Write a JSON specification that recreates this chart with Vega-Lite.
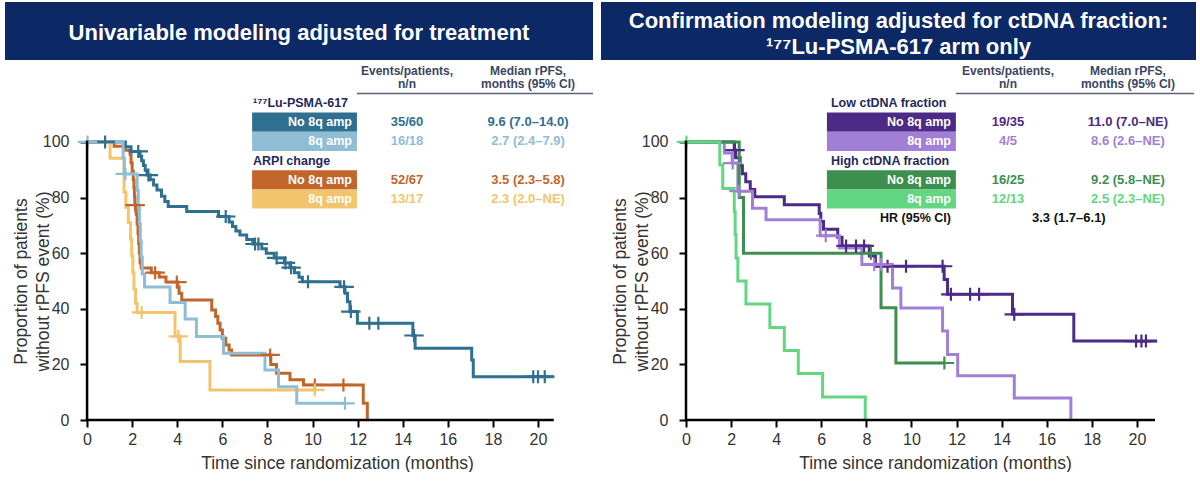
{
  "$schema": "https://vega.github.io/schema/vega-lite/v6.json",
  "background": "white",
  "padding": {"left": 5, "top": 2, "right": 0, "bottom": 0},
  "config": {"view": {"stroke": null}, "font": "Liberation Sans"},
  "datasets": {
    "one": [{}],
    "hdr": [{"row": "h", "ev": "Events/patients,\nn/n", "med": "Median rPFS,\nmonths (95% CI)"}],
    "grpL": [{"row": "g1", "text": "¹⁷⁷Lu-PSMA-617"}, {"row": "g2", "text": "ARPI change"}],
    "tabL": [
      {"row": "a", "g": "LuNo", "label": "No 8q amp", "ev": "35/60", "med": "9.6 (7.0–14.0)"},
      {"row": "b", "g": "Lu8q", "label": "8q amp", "ev": "16/18", "med": "2.7 (2.4–7.9)"},
      {"row": "c", "g": "ArNo", "label": "No 8q amp", "ev": "52/67", "med": "3.5 (2.3–5.8)"},
      {"row": "d", "g": "Ar8q", "label": "8q amp", "ev": "13/17", "med": "2.3 (2.0–NE)"}
    ],
    "grpR": [{"row": "g1", "text": "Low ctDNA fraction"}, {"row": "g2", "text": "High ctDNA fraction"}],
    "tabR": [
      {"row": "a", "g": "LowNo", "label": "No 8q amp", "ev": "19/35", "med": "11.0 (7.0–NE)"},
      {"row": "b", "g": "Low8q", "label": "8q amp", "ev": "4/5", "med": "8.6 (2.6–NE)"},
      {"row": "c", "g": "HighNo", "label": "No 8q amp", "ev": "16/25", "med": "9.2 (5.8–NE)"},
      {"row": "d", "g": "High8q", "label": "8q amp", "ev": "12/13", "med": "2.5 (2.3–NE)"}
    ],
    "hrR": [{"row": "hr", "label": "HR (95% CI)", "val": "3.3 (1.7–6.1)"}],
    "kmL": [
      {"g":"ArNo","t":0,"s":100},{"g":"ArNo","t":1.2,"s":98.5},{"g":"ArNo","t":1.69,"s":97.0},{"g":"ArNo","t":1.91,"s":95.5},{"g":"ArNo","t":1.95,"s":92.5},{"g":"ArNo","t":2.0,"s":89.5},{"g":"ArNo","t":2.05,"s":86.5},{"g":"ArNo","t":2.08,"s":83.5},{"g":"ArNo","t":2.1,"s":80.5},{"g":"ArNo","t":2.12,"s":77.3},{"g":"ArNo","t":2.18,"s":74.0},{"g":"ArNo","t":2.22,"s":70.5},{"g":"ArNo","t":2.26,"s":67.0},{"g":"ArNo","t":2.29,"s":63.5},{"g":"ArNo","t":2.32,"s":60.0},{"g":"ArNo","t":2.35,"s":56.5},{"g":"ArNo","t":2.4,"s":54.7},{"g":"ArNo","t":2.85,"s":53.0},{"g":"ArNo","t":3.2,"s":51.4},{"g":"ArNo","t":3.5,"s":49.6},{"g":"ArNo","t":4.02,"s":47.8},{"g":"ArNo","t":4.08,"s":45.6},{"g":"ArNo","t":4.2,"s":43.2},{"g":"ArNo","t":5.53,"s":39.6},{"g":"ArNo","t":5.7,"s":37.2},{"g":"ArNo","t":5.8,"s":34.8},{"g":"ArNo","t":5.9,"s":32.4},{"g":"ArNo","t":6.0,"s":29.4},{"g":"ArNo","t":6.15,"s":27.0},{"g":"ArNo","t":6.3,"s":25.2},{"g":"ArNo","t":6.41,"s":23.4},{"g":"ArNo","t":8.15,"s":20.0},{"g":"ArNo","t":8.4,"s":16.8},{"g":"ArNo","t":9.0,"s":14.5},{"g":"ArNo","t":9.6,"s":12.6},{"g":"ArNo","t":12.25,"s":6.0},{"g":"ArNo","t":12.43,"s":0},
      {"g":"Ar8q","t":0,"s":100},{"g":"Ar8q","t":1.02,"s":94.1},{"g":"Ar8q","t":1.64,"s":82.0},{"g":"Ar8q","t":1.72,"s":76.5},{"g":"Ar8q","t":1.83,"s":71.0},{"g":"Ar8q","t":1.93,"s":65.0},{"g":"Ar8q","t":1.98,"s":59.0},{"g":"Ar8q","t":2.03,"s":53.0},{"g":"Ar8q","t":2.08,"s":47.0},{"g":"Ar8q","t":2.15,"s":42.0},{"g":"Ar8q","t":2.22,"s":38.7},{"g":"Ar8q","t":3.9,"s":30.1},{"g":"Ar8q","t":4.13,"s":21.0},{"g":"Ar8q","t":5.45,"s":10.8},{"g":"Ar8q","t":10.1,"s":10.8},
      {"g":"LuNo","t":0,"s":100},{"g":"LuNo","t":1.7,"s":98.3},{"g":"LuNo","t":1.95,"s":96.6},{"g":"LuNo","t":2.35,"s":94.9},{"g":"LuNo","t":2.42,"s":93.2},{"g":"LuNo","t":2.5,"s":91.5},{"g":"LuNo","t":2.58,"s":89.8},{"g":"LuNo","t":2.66,"s":88.1},{"g":"LuNo","t":2.8,"s":86.4},{"g":"LuNo","t":2.95,"s":84.5},{"g":"LuNo","t":3.1,"s":82.7},{"g":"LuNo","t":3.3,"s":80.5},{"g":"LuNo","t":3.45,"s":78.6},{"g":"LuNo","t":3.6,"s":76.8},{"g":"LuNo","t":4.42,"s":75.0},{"g":"LuNo","t":5.83,"s":73.2},{"g":"LuNo","t":6.3,"s":71.2},{"g":"LuNo","t":6.45,"s":69.6},{"g":"LuNo","t":6.6,"s":68.0},{"g":"LuNo","t":6.78,"s":66.5},{"g":"LuNo","t":7.08,"s":64.9},{"g":"LuNo","t":7.35,"s":63.3},{"g":"LuNo","t":7.75,"s":61.6},{"g":"LuNo","t":7.95,"s":60.0},{"g":"LuNo","t":8.3,"s":58.3},{"g":"LuNo","t":8.75,"s":56.5},{"g":"LuNo","t":9.0,"s":54.8},{"g":"LuNo","t":9.2,"s":53.0},{"g":"LuNo","t":9.4,"s":51.3},{"g":"LuNo","t":9.55,"s":49.7},{"g":"LuNo","t":11.22,"s":47.9},{"g":"LuNo","t":11.44,"s":45.6},{"g":"LuNo","t":11.55,"s":42.5},{"g":"LuNo","t":11.66,"s":39.0},{"g":"LuNo","t":11.99,"s":34.8},{"g":"LuNo","t":14.45,"s":30.4},{"g":"LuNo","t":14.55,"s":25.8},{"g":"LuNo","t":17.06,"s":21.6},{"g":"LuNo","t":17.13,"s":15.6},{"g":"LuNo","t":20.7,"s":15.6},
      {"g":"Lu8q","t":0,"s":100},{"g":"Lu8q","t":1.6,"s":94.1},{"g":"Lu8q","t":1.65,"s":88.5},{"g":"Lu8q","t":2.22,"s":82.5},{"g":"Lu8q","t":2.27,"s":76.5},{"g":"Lu8q","t":2.32,"s":70.5},{"g":"Lu8q","t":2.36,"s":64.5},{"g":"Lu8q","t":2.4,"s":58.5},{"g":"Lu8q","t":2.45,"s":52.5},{"g":"Lu8q","t":2.55,"s":47.8},{"g":"Lu8q","t":3.68,"s":42.3},{"g":"Lu8q","t":4.35,"s":36.3},{"g":"Lu8q","t":4.85,"s":30.0},{"g":"Lu8q","t":6.05,"s":24.0},{"g":"Lu8q","t":7.89,"s":18.0},{"g":"Lu8q","t":8.49,"s":12.0},{"g":"Lu8q","t":9.3,"s":6.0},{"g":"Lu8q","t":11.5,"s":6.0}
    ],
    "cenL": [
      {"g":"ArNo","t":2.13,"s":77.3},{"g":"ArNo","t":3.02,"s":53.0},{"g":"ArNo","t":3.98,"s":49.6},{"g":"ArNo","t":8.12,"s":23.4},{"g":"ArNo","t":10.1,"s":12.6},{"g":"ArNo","t":11.37,"s":12.6},
      {"g":"Ar8q","t":2.42,"s":38.7},{"g":"Ar8q","t":4.05,"s":30.1},{"g":"Ar8q","t":10.1,"s":10.8},
      {"g":"LuNo","t":0.8,"s":100},{"g":"LuNo","t":2.27,"s":96.6},{"g":"LuNo","t":2.72,"s":88.1},{"g":"LuNo","t":6.15,"s":73.2},{"g":"LuNo","t":7.45,"s":63.3},{"g":"LuNo","t":7.6,"s":63.3},{"g":"LuNo","t":8.41,"s":58.3},{"g":"LuNo","t":8.8,"s":56.5},{"g":"LuNo","t":9.05,"s":54.8},{"g":"LuNo","t":9.8,"s":49.7},{"g":"LuNo","t":11.4,"s":47.9},{"g":"LuNo","t":11.7,"s":39.0},{"g":"LuNo","t":12.52,"s":34.8},{"g":"LuNo","t":12.92,"s":34.8},{"g":"LuNo","t":14.5,"s":30.4},{"g":"LuNo","t":19.79,"s":15.6},{"g":"LuNo","t":20.0,"s":15.6},{"g":"LuNo","t":20.3,"s":15.6},
      {"g":"Lu8q","t":0.02,"s":100},{"g":"Lu8q","t":1.7,"s":88.5},{"g":"Lu8q","t":11.44,"s":6.0}
    ],
    "kmR": [
      {"g":"LowNo","t":0,"s":100},{"g":"LowNo","t":2.14,"s":97.1},{"g":"LowNo","t":2.2,"s":94.3},{"g":"LowNo","t":2.4,"s":91.4},{"g":"LowNo","t":2.5,"s":88.6},{"g":"LowNo","t":2.65,"s":85.7},{"g":"LowNo","t":2.85,"s":82.9},{"g":"LowNo","t":3.05,"s":80.3},{"g":"LowNo","t":4.36,"s":77.4},{"g":"LowNo","t":5.91,"s":74.3},{"g":"LowNo","t":5.98,"s":71.4},{"g":"LowNo","t":6.1,"s":68.6},{"g":"LowNo","t":6.73,"s":65.7},{"g":"LowNo","t":6.92,"s":62.6},{"g":"LowNo","t":8.13,"s":59.0},{"g":"LowNo","t":8.4,"s":55.3},{"g":"LowNo","t":11.45,"s":50.5},{"g":"LowNo","t":11.6,"s":45.2},{"g":"LowNo","t":14.48,"s":38.0},{"g":"LowNo","t":17.2,"s":28.4},{"g":"LowNo","t":20.9,"s":28.4},
      {"g":"Low8q","t":0,"s":100},{"g":"Low8q","t":1.7,"s":96.0},{"g":"Low8q","t":2.05,"s":92.4},{"g":"Low8q","t":2.3,"s":82.3},{"g":"Low8q","t":2.95,"s":76.2},{"g":"Low8q","t":3.55,"s":72.0},{"g":"Low8q","t":5.95,"s":66.3},{"g":"Low8q","t":6.8,"s":61.9},{"g":"Low8q","t":7.8,"s":55.9},{"g":"Low8q","t":9.16,"s":47.5},{"g":"Low8q","t":9.53,"s":40.3},{"g":"Low8q","t":11.38,"s":32.0},{"g":"Low8q","t":11.6,"s":23.6},{"g":"Low8q","t":12.05,"s":15.9},{"g":"Low8q","t":14.56,"s":7.9},{"g":"Low8q","t":17.07,"s":0},
      {"g":"HighNo","t":0,"s":100},{"g":"HighNo","t":2.36,"s":80.0},{"g":"HighNo","t":2.55,"s":60.0},{"g":"HighNo","t":8.65,"s":40.4},{"g":"HighNo","t":9.31,"s":20.5},{"g":"HighNo","t":11.5,"s":20.5},
      {"g":"High8q","t":0,"s":100},{"g":"High8q","t":1.5,"s":91.7},{"g":"High8q","t":1.63,"s":83.3},{"g":"High8q","t":2.14,"s":75.0},{"g":"High8q","t":2.18,"s":66.7},{"g":"High8q","t":2.22,"s":58.3},{"g":"High8q","t":2.3,"s":50.0},{"g":"High8q","t":2.66,"s":41.7},{"g":"High8q","t":3.72,"s":33.3},{"g":"High8q","t":4.36,"s":25.0},{"g":"High8q","t":4.98,"s":16.7},{"g":"High8q","t":6.06,"s":8.3},{"g":"High8q","t":7.95,"s":0}
    ],
    "cenR": [
      {"g":"LowNo","t":2.17,"s":97.1},{"g":"LowNo","t":7.1,"s":62.6},{"g":"LowNo","t":7.54,"s":62.6},{"g":"LowNo","t":7.9,"s":62.6},{"g":"LowNo","t":8.94,"s":55.3},{"g":"LowNo","t":9.76,"s":55.3},{"g":"LowNo","t":11.38,"s":55.3},{"g":"LowNo","t":11.75,"s":45.2},{"g":"LowNo","t":12.6,"s":45.2},{"g":"LowNo","t":13.0,"s":45.2},{"g":"LowNo","t":14.56,"s":38.0},{"g":"LowNo","t":19.96,"s":28.4},{"g":"LowNo","t":20.2,"s":28.4},{"g":"LowNo","t":20.4,"s":28.4},
      {"g":"Low8q","t":2.07,"s":92.4},{"g":"Low8q","t":2.35,"s":82.3},{"g":"Low8q","t":6.2,"s":66.3},{"g":"Low8q","t":8.35,"s":55.9},{"g":"Low8q","t":8.65,"s":55.9},
      {"g":"HighNo","t":8.2,"s":60.0},{"g":"HighNo","t":11.46,"s":20.5},
      {"g":"High8q","t":0.02,"s":100}
    ]
  },
  "spacing": 7,
  "resolve": {"scale": {"color": "independent", "x": "independent", "y": "independent"}},
  "hconcat": [
    {
      "spacing": 3,
      "vconcat": [
        {
          "width": 588, "height": 58,
          "view": {"fill": "#0c2865", "stroke": null},
          "data": {"values": [{"title": "Univariable modeling adjusted for treatment"}]},
          "mark": {"type": "text", "color": "white", "fontSize": 22, "fontWeight": "bold", "baseline": "middle", "align": "center", "dy": 2},
          "encoding": {"text": {"field": "title", "type": "nominal"}}
        },
        {
          "width": 588, "height": 357,
          "resolve": {"scale": {"y": "independent"}},
          "layer": [
            {
              "layer": [
                {
                  "data": {"name": "kmL"},
                  "mark": {"type": "line", "interpolate": "step-after", "strokeWidth": 3},
                  "encoding": {
                    "x": {"field": "t", "type": "quantitative", "scale": {"domain": [-3.64, 22.44], "nice": false, "zero": false},
                      "axis": {"values": [0,2,4,6,8,10,12,14,16,18,20], "domain": false, "grid": false, "tickColor": "black", "tickWidth": 2, "tickSize": 7, "labelFontSize": 16, "labelColor": "#333333", "labelPadding": 4, "labelFlush": false, "labelOverlap": false, "title": "Time since randomization (months)", "titleFontSize": 17.5, "titleFontWeight": "normal", "titleColor": "#333333", "titleX": 332, "titleY": 34}},
                    "y": {"field": "s", "type": "quantitative", "scale": {"domain": [0, 128.4], "nice": false, "zero": false},
                      "axis": {"values": [0,20,40,60,80,100], "domain": false, "grid": false, "offset": -82, "tickColor": "black", "tickWidth": 2, "tickSize": 7, "labelFontSize": 16, "labelColor": "#333333", "labelPadding": 11, "title": ["Proportion of patients", "without rPFS event (%)"], "titleFontSize": 17.5, "titleFontWeight": "normal", "titleColor": "#333333", "titleX": -57, "titleY": 218, "titleLineHeight": 22}},
                    "color": {"field": "g", "type": "nominal", "scale": {"domain": ["LuNo","Lu8q","ArNo","Ar8q"], "range": ["#2f6f8f","#8fbdd6","#c2652b","#f2c56c"]}, "legend": null}
                  }
                },
                {
                  "data": {"name": "cenL"},
                  "mark": {"type": "point", "shape": "M-1.5,0L1.5,0M0,-1L0,1", "filled": false, "size": 169, "strokeWidth": 2.2, "opacity": 1},
                  "encoding": {
                    "x": {"field": "t", "type": "quantitative"},
                    "y": {"field": "s", "type": "quantitative"},
                    "color": {"field": "g", "type": "nominal", "scale": {"domain": ["LuNo","Lu8q","ArNo","Ar8q"], "range": ["#2f6f8f","#8fbdd6","#c2652b","#f2c56c"]}, "legend": null}
                  }
                },
                {
                  "data": {"name": "one"},
                  "mark": {"type": "rule", "color": "black", "strokeWidth": 2.5},
                  "encoding": {"x": {"datum": 0}, "y": {"datum": 0}, "y2": {"datum": 100.5}}
                },
                {
                  "data": {"name": "one"},
                  "mark": {"type": "rule", "color": "black", "strokeWidth": 2.5},
                  "encoding": {"x": {"datum": -0.05}, "x2": {"datum": 20.7}, "y": {"datum": 0}}
                }
              ]
            },
            {
              "layer": [
                {
                  "data": {"name": "hdr"},
                  "mark": {"type": "rule", "color": "#59627a", "strokeWidth": 1.5},
                  "encoding": {"x": {"datum": 11.97}, "x2": {"datum": 22.44},
                    "y": {"field": "row", "type": "nominal", "bandPosition": 1, "scale": {"type": "band", "domain": ["h","g1","a","b","g2","c","d","hr","z1","z2","z3","z4","z5","z6","z7","z8","z9","z10"], "paddingInner": 0, "paddingOuter": 0.297, "align": 0.982}, "axis": null}}
                },
                {
                  "data": {"name": "hdr"},
                  "mark": {"type": "text", "fontSize": 12, "fontWeight": "bold", "color": "#3b4560", "lineBreak": "\n", "lineHeight": 12.5, "baseline": "middle", "align": "center", "dy": -5},
                  "encoding": {"x": {"datum": 14.19},
                    "y": {"field": "row", "type": "nominal", "bandPosition": 0.1, "scale": {"type": "band", "domain": ["h","g1","a","b","g2","c","d","hr","z1","z2","z3","z4","z5","z6","z7","z8","z9","z10"], "paddingInner": 0, "paddingOuter": 0.297, "align": 0.982}, "axis": null},
                    "text": {"field": "ev", "type": "nominal"}}
                },
                {
                  "data": {"name": "hdr"},
                  "mark": {"type": "text", "fontSize": 12, "fontWeight": "bold", "color": "#3b4560", "lineBreak": "\n", "lineHeight": 12.5, "baseline": "middle", "align": "center", "dy": -5},
                  "encoding": {"x": {"datum": 19.56},
                    "y": {"field": "row", "type": "nominal", "bandPosition": 0.1, "scale": {"type": "band", "domain": ["h","g1","a","b","g2","c","d","hr","z1","z2","z3","z4","z5","z6","z7","z8","z9","z10"], "paddingInner": 0, "paddingOuter": 0.297, "align": 0.982}, "axis": null},
                    "text": {"field": "med", "type": "nominal"}}
                },
                {
                  "data": {"name": "grpL"},
                  "mark": {"type": "text", "fontSize": 12.5, "fontWeight": "bold", "color": "#1f2a5a", "baseline": "middle", "align": "left"},
                  "encoding": {"x": {"datum": 7.36},
                    "y": {"field": "row", "type": "nominal", "scale": {"type": "band", "domain": ["h","g1","a","b","g2","c","d","hr","z1","z2","z3","z4","z5","z6","z7","z8","z9","z10"], "paddingInner": 0, "paddingOuter": 0.297, "align": 0.982}, "axis": null},
                    "text": {"field": "text", "type": "nominal"}}
                },
                {
                  "data": {"name": "tabL"},
                  "mark": {"type": "rect"},
                  "encoding": {"x": {"datum": 7.32}, "x2": {"datum": 11.97},
                    "y": {"field": "row", "type": "nominal", "scale": {"type": "band", "domain": ["h","g1","a","b","g2","c","d","hr","z1","z2","z3","z4","z5","z6","z7","z8","z9","z10"], "paddingInner": 0, "paddingOuter": 0.297, "align": 0.982}, "axis": null},
                    "color": {"field": "g", "type": "nominal", "scale": {"domain": ["LuNo","Lu8q","ArNo","Ar8q"], "range": ["#2f6f8f","#8fbdd6","#c2652b","#f2c56c"]}, "legend": null}}
                },
                {
                  "data": {"name": "tabL"},
                  "mark": {"type": "text", "fontSize": 12.5, "fontWeight": "bold", "color": "white", "baseline": "middle", "align": "right"},
                  "encoding": {"x": {"datum": 11.75},
                    "y": {"field": "row", "type": "nominal", "scale": {"type": "band", "domain": ["h","g1","a","b","g2","c","d","hr","z1","z2","z3","z4","z5","z6","z7","z8","z9","z10"], "paddingInner": 0, "paddingOuter": 0.297, "align": 0.982}, "axis": null},
                    "text": {"field": "label", "type": "nominal"}}
                },
                {
                  "data": {"name": "tabL"},
                  "mark": {"type": "text", "fontSize": 13, "fontWeight": "bold", "baseline": "middle", "align": "center"},
                  "encoding": {"x": {"datum": 14.19},
                    "y": {"field": "row", "type": "nominal", "scale": {"type": "band", "domain": ["h","g1","a","b","g2","c","d","hr","z1","z2","z3","z4","z5","z6","z7","z8","z9","z10"], "paddingInner": 0, "paddingOuter": 0.297, "align": 0.982}, "axis": null},
                    "text": {"field": "ev", "type": "nominal"},
                    "color": {"field": "g", "type": "nominal", "scale": {"domain": ["LuNo","Lu8q","ArNo","Ar8q"], "range": ["#2f6f8f","#8fbdd6","#c2652b","#f2c56c"]}, "legend": null}}
                },
                {
                  "data": {"name": "tabL"},
                  "mark": {"type": "text", "fontSize": 13, "fontWeight": "bold", "baseline": "middle", "align": "center"},
                  "encoding": {"x": {"datum": 19.56},
                    "y": {"field": "row", "type": "nominal", "scale": {"type": "band", "domain": ["h","g1","a","b","g2","c","d","hr","z1","z2","z3","z4","z5","z6","z7","z8","z9","z10"], "paddingInner": 0, "paddingOuter": 0.297, "align": 0.982}, "axis": null},
                    "text": {"field": "med", "type": "nominal"},
                    "color": {"field": "g", "type": "nominal", "scale": {"domain": ["LuNo","Lu8q","ArNo","Ar8q"], "range": ["#2f6f8f","#8fbdd6","#c2652b","#f2c56c"]}, "legend": null}}
                }
              ]
            }
          ]
        }
      ]
    },
    {
      "spacing": 3,
      "vconcat": [
        {
          "width": 595, "height": 58,
          "view": {"fill": "#0c2865", "stroke": null},
          "data": {"values": [{"ln": "1", "title": "Confirmation modeling adjusted for ctDNA fraction:"}, {"ln": "2", "title": "¹⁷⁷Lu-PSMA-617 arm only"}]},
          "mark": {"type": "text", "color": "white", "fontSize": 22, "fontWeight": "bold", "baseline": "middle", "align": "center", "dy": 3},
          "encoding": {
            "y": {"field": "ln", "type": "ordinal", "scale": {"type": "band", "paddingInner": 0, "paddingOuter": 0.1}, "axis": null},
            "text": {"field": "title", "type": "nominal"}
          }
        },
        {
          "width": 595, "height": 357,
          "resolve": {"scale": {"y": "independent"}},
          "layer": [
            {
              "layer": [
                {
                  "data": {"name": "kmR"},
                  "mark": {"type": "line", "interpolate": "step-after", "strokeWidth": 3},
                  "encoding": {
                    "x": {"field": "t", "type": "quantitative", "scale": {"domain": [-3.77, 22.62], "nice": false, "zero": false},
                      "axis": {"values": [0,2,4,6,8,10,12,14,16,18,20], "domain": false, "grid": false, "tickColor": "black", "tickWidth": 2, "tickSize": 7, "labelFontSize": 16, "labelColor": "#333333", "labelPadding": 4, "labelFlush": false, "labelOverlap": false, "title": "Time since randomization (months)", "titleFontSize": 17.5, "titleFontWeight": "normal", "titleColor": "#333333", "titleX": 334, "titleY": 34}},
                    "y": {"field": "s", "type": "quantitative", "scale": {"domain": [0, 128.4], "nice": false, "zero": false},
                      "axis": {"values": [0,20,40,60,80,100], "domain": false, "grid": false, "offset": -85, "tickColor": "black", "tickWidth": 2, "tickSize": 7, "labelFontSize": 16, "labelColor": "#333333", "labelPadding": 11, "title": ["Proportion of patients", "without rPFS event (%)"], "titleFontSize": 17.5, "titleFontWeight": "normal", "titleColor": "#333333", "titleX": -57, "titleY": 218, "titleLineHeight": 22}},
                    "color": {"field": "g", "type": "nominal", "scale": {"domain": ["LowNo","Low8q","HighNo","High8q"], "range": ["#4d2a85","#a27fd6","#3d8f50","#62d680"]}, "legend": null}
                  }
                },
                {
                  "data": {"name": "cenR"},
                  "mark": {"type": "point", "shape": "M-1.5,0L1.5,0M0,-1L0,1", "filled": false, "size": 169, "strokeWidth": 2.2, "opacity": 1},
                  "encoding": {
                    "x": {"field": "t", "type": "quantitative"},
                    "y": {"field": "s", "type": "quantitative"},
                    "color": {"field": "g", "type": "nominal", "scale": {"domain": ["LowNo","Low8q","HighNo","High8q"], "range": ["#4d2a85","#a27fd6","#3d8f50","#62d680"]}, "legend": null}
                  }
                },
                {
                  "data": {"name": "one"},
                  "mark": {"type": "rule", "color": "black", "strokeWidth": 2.5},
                  "encoding": {"x": {"datum": 0}, "y": {"datum": 0}, "y2": {"datum": 100.5}}
                },
                {
                  "data": {"name": "one"},
                  "mark": {"type": "rule", "color": "black", "strokeWidth": 2.5},
                  "encoding": {"x": {"datum": -0.05}, "x2": {"datum": 20.8}, "y": {"datum": 0}}
                }
              ]
            },
            {
              "layer": [
                {
                  "data": {"name": "hdr"},
                  "mark": {"type": "rule", "color": "#59627a", "strokeWidth": 1.5},
                  "encoding": {"x": {"datum": 11.97}, "x2": {"datum": 22.53},
                    "y": {"field": "row", "type": "nominal", "bandPosition": 1, "scale": {"type": "band", "domain": ["h","g1","a","b","g2","c","d","hr","z1","z2","z3","z4","z5","z6","z7","z8","z9","z10"], "paddingInner": 0, "paddingOuter": 0.297, "align": 0.982}, "axis": null}}
                },
                {
                  "data": {"name": "hdr"},
                  "mark": {"type": "text", "fontSize": 12, "fontWeight": "bold", "color": "#3b4560", "lineBreak": "\n", "lineHeight": 12.5, "baseline": "middle", "align": "center", "dy": -5},
                  "encoding": {"x": {"datum": 14.28},
                    "y": {"field": "row", "type": "nominal", "bandPosition": 0.1, "scale": {"type": "band", "domain": ["h","g1","a","b","g2","c","d","hr","z1","z2","z3","z4","z5","z6","z7","z8","z9","z10"], "paddingInner": 0, "paddingOuter": 0.297, "align": 0.982}, "axis": null},
                    "text": {"field": "ev", "type": "nominal"}}
                },
                {
                  "data": {"name": "hdr"},
                  "mark": {"type": "text", "fontSize": 12, "fontWeight": "bold", "color": "#3b4560", "lineBreak": "\n", "lineHeight": 12.5, "baseline": "middle", "align": "center", "dy": -5},
                  "encoding": {"x": {"datum": 19.6},
                    "y": {"field": "row", "type": "nominal", "bandPosition": 0.1, "scale": {"type": "band", "domain": ["h","g1","a","b","g2","c","d","hr","z1","z2","z3","z4","z5","z6","z7","z8","z9","z10"], "paddingInner": 0, "paddingOuter": 0.297, "align": 0.982}, "axis": null},
                    "text": {"field": "med", "type": "nominal"}}
                },
                {
                  "data": {"name": "grpR"},
                  "mark": {"type": "text", "fontSize": 12.5, "fontWeight": "bold", "color": "#1f2a5a", "baseline": "middle", "align": "left"},
                  "encoding": {"x": {"datum": 6.43},
                    "y": {"field": "row", "type": "nominal", "scale": {"type": "band", "domain": ["h","g1","a","b","g2","c","d","hr","z1","z2","z3","z4","z5","z6","z7","z8","z9","z10"], "paddingInner": 0, "paddingOuter": 0.297, "align": 0.982}, "axis": null},
                    "text": {"field": "text", "type": "nominal"}}
                },
                {
                  "data": {"name": "tabR"},
                  "mark": {"type": "rect"},
                  "encoding": {"x": {"datum": 6.25}, "x2": {"datum": 11.97},
                    "y": {"field": "row", "type": "nominal", "scale": {"type": "band", "domain": ["h","g1","a","b","g2","c","d","hr","z1","z2","z3","z4","z5","z6","z7","z8","z9","z10"], "paddingInner": 0, "paddingOuter": 0.297, "align": 0.982}, "axis": null},
                    "color": {"field": "g", "type": "nominal", "scale": {"domain": ["LowNo","Low8q","HighNo","High8q"], "range": ["#4d2a85","#a27fd6","#3d8f50","#62d680"]}, "legend": null}}
                },
                {
                  "data": {"name": "tabR"},
                  "mark": {"type": "text", "fontSize": 12.5, "fontWeight": "bold", "color": "white", "baseline": "middle", "align": "right"},
                  "encoding": {"x": {"datum": 11.75},
                    "y": {"field": "row", "type": "nominal", "scale": {"type": "band", "domain": ["h","g1","a","b","g2","c","d","hr","z1","z2","z3","z4","z5","z6","z7","z8","z9","z10"], "paddingInner": 0, "paddingOuter": 0.297, "align": 0.982}, "axis": null},
                    "text": {"field": "label", "type": "nominal"}}
                },
                {
                  "data": {"name": "tabR"},
                  "mark": {"type": "text", "fontSize": 13, "fontWeight": "bold", "baseline": "middle", "align": "center"},
                  "encoding": {"x": {"datum": 14.28},
                    "y": {"field": "row", "type": "nominal", "scale": {"type": "band", "domain": ["h","g1","a","b","g2","c","d","hr","z1","z2","z3","z4","z5","z6","z7","z8","z9","z10"], "paddingInner": 0, "paddingOuter": 0.297, "align": 0.982}, "axis": null},
                    "text": {"field": "ev", "type": "nominal"},
                    "color": {"field": "g", "type": "nominal", "scale": {"domain": ["LowNo","Low8q","HighNo","High8q"], "range": ["#4d2a85","#a27fd6","#3d8f50","#62d680"]}, "legend": null}}
                },
                {
                  "data": {"name": "tabR"},
                  "mark": {"type": "text", "fontSize": 13, "fontWeight": "bold", "baseline": "middle", "align": "center"},
                  "encoding": {"x": {"datum": 19.6},
                    "y": {"field": "row", "type": "nominal", "scale": {"type": "band", "domain": ["h","g1","a","b","g2","c","d","hr","z1","z2","z3","z4","z5","z6","z7","z8","z9","z10"], "paddingInner": 0, "paddingOuter": 0.297, "align": 0.982}, "axis": null},
                    "text": {"field": "med", "type": "nominal"},
                    "color": {"field": "g", "type": "nominal", "scale": {"domain": ["LowNo","Low8q","HighNo","High8q"], "range": ["#4d2a85","#a27fd6","#3d8f50","#62d680"]}, "legend": null}}
                },
                {
                  "data": {"name": "hrR"},
                  "mark": {"type": "text", "fontSize": 12.5, "fontWeight": "bold", "color": "#111111", "baseline": "middle", "align": "right"},
                  "encoding": {"x": {"datum": 11.75},
                    "y": {"field": "row", "type": "nominal", "scale": {"type": "band", "domain": ["h","g1","a","b","g2","c","d","hr","z1","z2","z3","z4","z5","z6","z7","z8","z9","z10"], "paddingInner": 0, "paddingOuter": 0.297, "align": 0.982}, "axis": null},
                    "text": {"field": "label", "type": "nominal"}}
                },
                {
                  "data": {"name": "hrR"},
                  "mark": {"type": "text", "fontSize": 13, "fontWeight": "bold", "color": "#111111", "baseline": "middle", "align": "center"},
                  "encoding": {"x": {"datum": 16.98},
                    "y": {"field": "row", "type": "nominal", "scale": {"type": "band", "domain": ["h","g1","a","b","g2","c","d","hr","z1","z2","z3","z4","z5","z6","z7","z8","z9","z10"], "paddingInner": 0, "paddingOuter": 0.297, "align": 0.982}, "axis": null},
                    "text": {"field": "val", "type": "nominal"}}
                }
              ]
            }
          ]
        }
      ]
    }
  ]
}
